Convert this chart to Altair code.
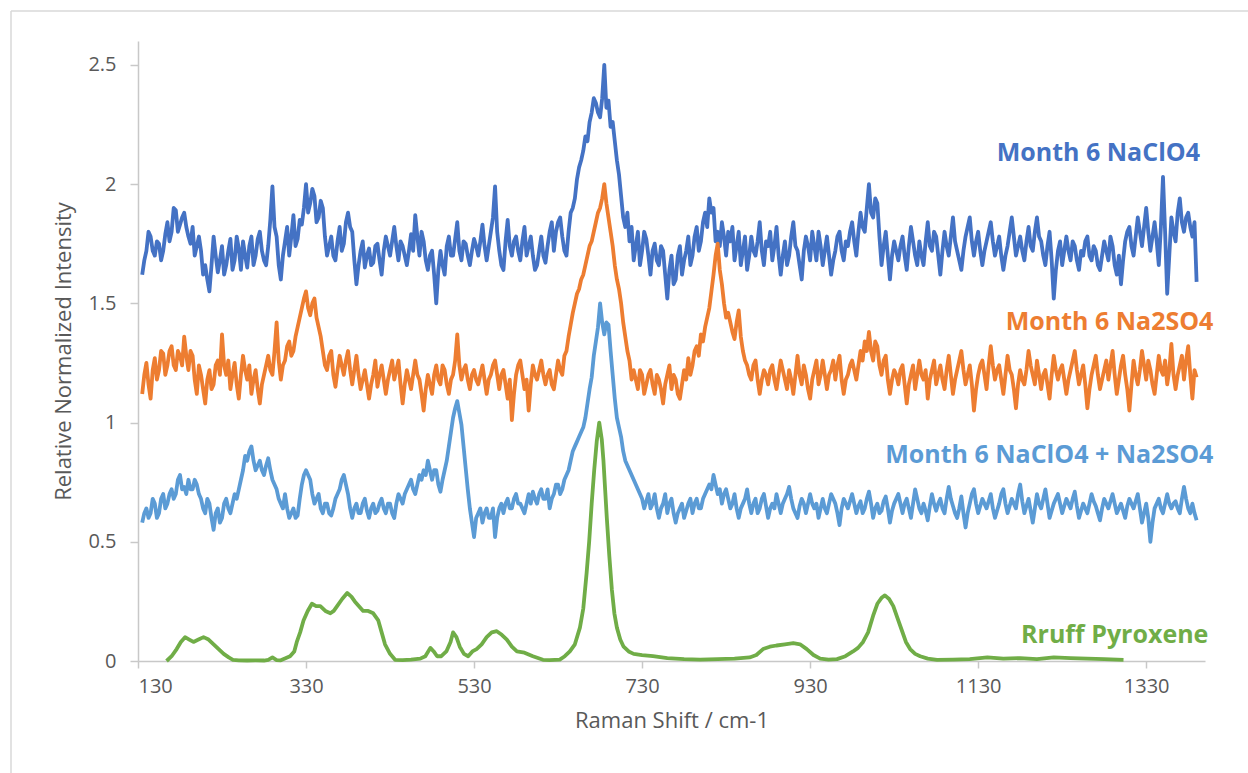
import altair as alt
import pandas as pd

# ---------------- data ----------------
# common sampling grid of the three measured spectra (cm-1): 135 ... 1390, every 2.5
shift = [135 + 2.5 * i for i in range(503)]

naclo4 = [
    1.62, 1.68, 1.72, 1.80, 1.78, 1.72, 1.70, 1.76, 1.75, 1.68, 1.72, 1.79, 1.84, 1.76, 1.80, 1.90, 1.89, 1.80, 1.83, 1.86,
    1.88, 1.82, 1.78, 1.75, 1.82, 1.70, 1.74, 1.78, 1.72, 1.62, 1.66, 1.60, 1.55, 1.66, 1.78, 1.70, 1.63, 1.68, 1.74, 1.62,
    1.66, 1.72, 1.77, 1.64, 1.68, 1.78, 1.73, 1.64, 1.76, 1.70, 1.65, 1.74, 1.78, 1.66, 1.70, 1.77, 1.80, 1.72, 1.68, 1.66,
    1.74, 1.85, 1.99, 1.82, 1.78, 1.66, 1.60, 1.70, 1.76, 1.82, 1.70, 1.78, 1.87, 1.74, 1.77, 1.85, 1.83, 1.90, 2.00, 1.88,
    1.92, 1.98, 1.95, 1.84, 1.86, 1.93, 1.90, 1.78, 1.70, 1.74, 1.78, 1.70, 1.68, 1.76, 1.82, 1.72, 1.75, 1.84, 1.88, 1.82,
    1.80, 1.68, 1.58, 1.66, 1.72, 1.76, 1.65, 1.70, 1.73, 1.66, 1.67, 1.74, 1.75, 1.68, 1.62, 1.72, 1.78, 1.74, 1.70, 1.76,
    1.82, 1.74, 1.68, 1.76, 1.74, 1.70, 1.66, 1.72, 1.79, 1.72, 1.87, 1.78, 1.70, 1.80, 1.76, 1.68, 1.64, 1.70, 1.72, 1.62,
    1.50, 1.64, 1.72, 1.66, 1.62, 1.74, 1.78, 1.70, 1.70, 1.77, 1.84, 1.72, 1.68, 1.76, 1.75, 1.70, 1.66, 1.72, 1.77, 1.74,
    1.70, 1.76, 1.83, 1.74, 1.68, 1.74, 1.80, 1.86, 1.99, 1.80, 1.72, 1.66, 1.64, 1.76, 1.85, 1.74, 1.70, 1.76, 1.78, 1.72,
    1.68, 1.76, 1.82, 1.70, 1.74, 1.78, 1.70, 1.64, 1.66, 1.72, 1.78, 1.70, 1.67, 1.74, 1.80, 1.84, 1.72, 1.80, 1.84, 1.86,
    1.78, 1.72, 1.70, 1.80, 1.88, 1.90, 1.94, 2.02, 2.07, 2.10, 2.14, 2.20, 2.18, 2.26, 2.30, 2.36, 2.34, 2.30, 2.28, 2.36,
    2.50, 2.32, 2.35, 2.24, 2.26, 2.18, 2.10, 2.04, 1.95, 1.86, 1.82, 1.88, 1.76, 1.82, 1.68, 1.74, 1.80, 1.66, 1.72, 1.80,
    1.77, 1.70, 1.62, 1.72, 1.75, 1.68, 1.66, 1.74, 1.72, 1.62, 1.52, 1.64, 1.70, 1.58, 1.60, 1.70, 1.74, 1.62, 1.68, 1.72,
    1.78, 1.66, 1.70, 1.78, 1.82, 1.72, 1.76, 1.84, 1.88, 1.82, 1.94, 1.88, 1.90, 1.76, 1.80, 1.74, 1.84, 1.78, 1.70, 1.80,
    1.76, 1.82, 1.68, 1.74, 1.80, 1.66, 1.72, 1.78, 1.64, 1.70, 1.78, 1.72, 1.70, 1.76, 1.84, 1.72, 1.66, 1.76, 1.74, 1.80,
    1.68, 1.74, 1.82, 1.70, 1.62, 1.70, 1.76, 1.66, 1.70, 1.78, 1.84, 1.74, 1.72, 1.66, 1.60, 1.72, 1.78, 1.74, 1.68, 1.80,
    1.74, 1.68, 1.80, 1.74, 1.66, 1.72, 1.78, 1.70, 1.62, 1.68, 1.72, 1.78, 1.80, 1.72, 1.68, 1.76, 1.74, 1.80, 1.84, 1.76,
    1.70, 1.80, 1.88, 1.82, 1.80, 1.90, 2.00, 1.88, 1.86, 1.94, 1.92, 1.78, 1.66, 1.74, 1.80, 1.70, 1.60, 1.70, 1.76, 1.72,
    1.68, 1.74, 1.78, 1.70, 1.64, 1.74, 1.82, 1.76, 1.70, 1.66, 1.76, 1.70, 1.66, 1.76, 1.84, 1.74, 1.72, 1.80, 1.78, 1.70,
    1.62, 1.72, 1.80, 1.74, 1.70, 1.78, 1.86, 1.76, 1.72, 1.68, 1.64, 1.72, 1.78, 1.82, 1.86, 1.76, 1.70, 1.76, 1.80, 1.72,
    1.66, 1.72, 1.76, 1.80, 1.84, 1.76, 1.70, 1.74, 1.78, 1.70, 1.64, 1.70, 1.74, 1.80, 1.86, 1.78, 1.70, 1.74, 1.78, 1.72,
    1.68, 1.76, 1.82, 1.74, 1.72, 1.80, 1.86, 1.78, 1.76, 1.70, 1.66, 1.74, 1.80, 1.68, 1.52, 1.64, 1.72, 1.76, 1.66, 1.72,
    1.78, 1.72, 1.68, 1.76, 1.74, 1.68, 1.64, 1.72, 1.70, 1.76, 1.78, 1.70, 1.68, 1.74, 1.72, 1.66, 1.64, 1.70, 1.76, 1.72,
    1.68, 1.78, 1.74, 1.66, 1.62, 1.70, 1.58, 1.68, 1.76, 1.80, 1.82, 1.74, 1.70, 1.78, 1.86, 1.80, 1.74, 1.82, 1.90, 1.80,
    1.72, 1.78, 1.84, 1.76, 1.66, 1.82, 2.03, 1.80, 1.54, 1.70, 1.86, 1.80, 1.76, 1.88, 1.94, 1.84, 1.80, 1.86, 1.88, 1.82,
    1.78, 1.84, 1.59,
]

na2so4 = [
    1.12, 1.20, 1.25, 1.16, 1.10, 1.22, 1.27, 1.18, 1.22, 1.30, 1.29, 1.20, 1.24, 1.30, 1.32, 1.24, 1.22, 1.30, 1.28, 1.24,
    1.36, 1.28, 1.22, 1.30, 1.28, 1.18, 1.12, 1.24, 1.20, 1.14, 1.08, 1.18, 1.22, 1.14, 1.16, 1.24, 1.26, 1.20, 1.37, 1.24,
    1.20, 1.26, 1.14, 1.20, 1.25, 1.16, 1.10, 1.20, 1.28, 1.22, 1.18, 1.24, 1.12, 1.18, 1.22, 1.14, 1.08, 1.16, 1.20, 1.24,
    1.28, 1.22, 1.20, 1.30, 1.42, 1.26, 1.18, 1.24, 1.26, 1.32, 1.34, 1.28, 1.30, 1.36, 1.40, 1.44, 1.48, 1.52, 1.55, 1.48,
    1.45, 1.50, 1.52, 1.44, 1.40, 1.36, 1.30, 1.24, 1.22, 1.28, 1.30, 1.20, 1.15, 1.22, 1.28, 1.24, 1.20, 1.26, 1.30, 1.22,
    1.16, 1.22, 1.28, 1.20, 1.14, 1.18, 1.22, 1.16, 1.10, 1.16, 1.20, 1.26, 1.15, 1.20, 1.24, 1.18, 1.12, 1.18, 1.22, 1.26,
    1.18, 1.22, 1.26, 1.16, 1.08, 1.16, 1.22, 1.18, 1.14, 1.20, 1.26, 1.20, 1.18, 1.12, 1.05, 1.14, 1.20, 1.16, 1.12, 1.20,
    1.24, 1.18, 1.16, 1.24, 1.22, 1.16, 1.12, 1.18, 1.20, 1.26, 1.37, 1.24, 1.18, 1.22, 1.24, 1.18, 1.14, 1.20, 1.22, 1.18,
    1.16, 1.20, 1.24, 1.18, 1.12, 1.18, 1.20, 1.24, 1.26, 1.20, 1.14, 1.20, 1.22, 1.16, 1.10, 1.18, 1.01, 1.12, 1.20, 1.24,
    1.26, 1.20, 1.14, 1.18, 1.05, 1.16, 1.24, 1.20, 1.18, 1.22, 1.26, 1.20, 1.16, 1.20, 1.22, 1.16, 1.14, 1.20, 1.26, 1.22,
    1.20, 1.28, 1.30, 1.36, 1.41, 1.46, 1.50, 1.54, 1.56, 1.60, 1.62, 1.66, 1.70, 1.74, 1.76, 1.80, 1.84, 1.88, 1.90, 1.94,
    2.00, 1.92, 1.86, 1.80, 1.74, 1.66, 1.60, 1.56, 1.50, 1.42, 1.36, 1.30, 1.26, 1.18, 1.22, 1.18, 1.14, 1.22, 1.20, 1.12,
    1.16, 1.20, 1.22, 1.16, 1.12, 1.20, 1.18, 1.14, 1.08, 1.16, 1.20, 1.24, 1.14, 1.20, 1.18, 1.12, 1.10, 1.16, 1.22, 1.18,
    1.27, 1.20, 1.24, 1.30, 1.32, 1.28, 1.37, 1.34, 1.40, 1.44, 1.48, 1.55, 1.62, 1.70, 1.75, 1.64, 1.58, 1.50, 1.44, 1.46,
    1.42, 1.38, 1.35, 1.42, 1.47, 1.36, 1.30, 1.26, 1.24, 1.20, 1.18, 1.24, 1.26, 1.18, 1.12, 1.18, 1.22, 1.20, 1.16, 1.22,
    1.24, 1.18, 1.14, 1.20, 1.26, 1.22, 1.18, 1.14, 1.22, 1.18, 1.12, 1.20, 1.28, 1.20, 1.16, 1.24, 1.20, 1.14, 1.10, 1.18,
    1.22, 1.26, 1.16, 1.20, 1.26, 1.20, 1.14, 1.20, 1.22, 1.26, 1.18, 1.24, 1.28, 1.18, 1.12, 1.18, 1.20, 1.24, 1.26, 1.22,
    1.18, 1.24, 1.30, 1.26, 1.34, 1.30, 1.38, 1.30, 1.26, 1.34, 1.32, 1.24, 1.20, 1.26, 1.28, 1.18, 1.12, 1.18, 1.22, 1.20,
    1.16, 1.22, 1.24, 1.16, 1.08, 1.16, 1.20, 1.24, 1.14, 1.20, 1.26, 1.20, 1.18, 1.22, 1.10, 1.18, 1.22, 1.26, 1.16, 1.20,
    1.24, 1.18, 1.14, 1.22, 1.28, 1.20, 1.12, 1.18, 1.22, 1.26, 1.30, 1.22, 1.16, 1.20, 1.24, 1.16, 1.05, 1.14, 1.20, 1.24,
    1.26, 1.20, 1.14, 1.24, 1.32, 1.24, 1.18, 1.22, 1.24, 1.18, 1.12, 1.20, 1.28, 1.22, 1.20, 1.14, 1.06, 1.16, 1.22, 1.18,
    1.16, 1.22, 1.30, 1.24, 1.20, 1.16, 1.26, 1.20, 1.14, 1.20, 1.22, 1.16, 1.10, 1.20, 1.28, 1.22, 1.18, 1.22, 1.24, 1.18,
    1.12, 1.18, 1.22, 1.26, 1.30, 1.22, 1.16, 1.20, 1.24, 1.16, 1.06, 1.14, 1.20, 1.24, 1.28, 1.20, 1.14, 1.18, 1.22, 1.26,
    1.18, 1.24, 1.30, 1.20, 1.12, 1.18, 1.24, 1.28, 1.20, 1.14, 1.05, 1.16, 1.26, 1.20, 1.16, 1.22, 1.30, 1.24, 1.18, 1.26,
    1.22, 1.16, 1.12, 1.20, 1.28, 1.22, 1.20, 1.26, 1.16, 1.22, 1.33, 1.20, 1.14, 1.20, 1.24, 1.28, 1.18, 1.26, 1.32, 1.20,
    1.10, 1.22, 1.19,
]

mixed = [
    0.58, 0.62, 0.64, 0.60, 0.62, 0.68, 0.66, 0.60, 0.62, 0.68, 0.70, 0.64, 0.66, 0.70, 0.72, 0.68, 0.70, 0.76, 0.78, 0.72,
    0.73, 0.70, 0.76, 0.72, 0.72, 0.76, 0.74, 0.70, 0.68, 0.64, 0.62, 0.68, 0.66, 0.60, 0.55, 0.62, 0.64, 0.58, 0.60, 0.66,
    0.68, 0.64, 0.62, 0.66, 0.70, 0.68, 0.72, 0.76, 0.80, 0.86, 0.84, 0.88, 0.90, 0.84, 0.80, 0.82, 0.84, 0.80, 0.78, 0.82,
    0.85, 0.80, 0.76, 0.74, 0.72, 0.68, 0.66, 0.64, 0.70, 0.64, 0.60, 0.62, 0.64, 0.60, 0.61, 0.68, 0.74, 0.78, 0.80, 0.78,
    0.76, 0.70, 0.66, 0.68, 0.70, 0.64, 0.62, 0.66, 0.66, 0.62, 0.61, 0.64, 0.68, 0.70, 0.72, 0.76, 0.78, 0.74, 0.70, 0.64,
    0.60, 0.64, 0.66, 0.62, 0.62, 0.66, 0.68, 0.63, 0.60, 0.64, 0.66, 0.62, 0.63, 0.66, 0.68, 0.64, 0.62, 0.66, 0.66, 0.62,
    0.60, 0.66, 0.70, 0.68, 0.66, 0.70, 0.72, 0.74, 0.76, 0.72, 0.70, 0.74, 0.78, 0.76, 0.80, 0.78, 0.84, 0.80, 0.76, 0.80,
    0.80, 0.74, 0.71, 0.76, 0.80, 0.84, 0.90, 0.96, 1.02, 1.06, 1.09, 1.04, 0.99, 0.90, 0.81, 0.72, 0.64, 0.58, 0.52, 0.60,
    0.62, 0.64, 0.58, 0.62, 0.64, 0.60, 0.60, 0.64, 0.52, 0.60, 0.64, 0.66, 0.62, 0.66, 0.68, 0.64, 0.64, 0.68, 0.70, 0.66,
    0.66, 0.64, 0.62, 0.66, 0.70, 0.66, 0.71, 0.68, 0.66, 0.70, 0.72, 0.68, 0.68, 0.72, 0.64, 0.68, 0.70, 0.74, 0.74, 0.70,
    0.72, 0.76, 0.78, 0.80, 0.84, 0.88, 0.90, 0.92, 0.94, 0.96, 0.98, 1.02, 1.08, 1.14, 1.19, 1.28, 1.34, 1.40, 1.50, 1.42,
    1.37, 1.42, 1.41, 1.30, 1.20, 1.10, 1.02, 0.98, 0.94, 0.88, 0.84, 0.82, 0.80, 0.78, 0.76, 0.74, 0.72, 0.70, 0.68, 0.64,
    0.67, 0.70, 0.64, 0.66, 0.70, 0.64, 0.60, 0.64, 0.66, 0.70, 0.62, 0.66, 0.68, 0.62, 0.58, 0.62, 0.64, 0.66, 0.60, 0.63,
    0.66, 0.68, 0.62, 0.66, 0.68, 0.64, 0.64, 0.68, 0.70, 0.72, 0.74, 0.72, 0.78, 0.74, 0.70, 0.72, 0.66, 0.70, 0.72, 0.68,
    0.64, 0.66, 0.70, 0.64, 0.60, 0.64, 0.66, 0.68, 0.72, 0.66, 0.62, 0.66, 0.68, 0.62, 0.64, 0.68, 0.70, 0.65, 0.60, 0.64,
    0.66, 0.64, 0.70, 0.66, 0.62, 0.66, 0.68, 0.70, 0.73, 0.68, 0.64, 0.62, 0.60, 0.65, 0.68, 0.66, 0.62, 0.66, 0.70, 0.66,
    0.64, 0.66, 0.60, 0.64, 0.68, 0.64, 0.62, 0.66, 0.70, 0.68, 0.66, 0.62, 0.57, 0.64, 0.68, 0.66, 0.64, 0.67, 0.70, 0.66,
    0.62, 0.65, 0.67, 0.62, 0.64, 0.68, 0.71, 0.66, 0.60, 0.64, 0.66, 0.62, 0.63, 0.67, 0.69, 0.64, 0.58, 0.63, 0.66, 0.68,
    0.70, 0.66, 0.62, 0.66, 0.68, 0.64, 0.60, 0.66, 0.72, 0.68, 0.64, 0.62, 0.66, 0.63, 0.59, 0.65, 0.70, 0.66, 0.63, 0.66,
    0.68, 0.64, 0.62, 0.68, 0.73, 0.68, 0.65, 0.62, 0.60, 0.64, 0.69, 0.62, 0.56, 0.62, 0.66, 0.70, 0.72, 0.66, 0.62, 0.65,
    0.68, 0.66, 0.64, 0.67, 0.70, 0.64, 0.60, 0.63, 0.66, 0.70, 0.72, 0.66, 0.62, 0.65, 0.68, 0.66, 0.64, 0.70, 0.74, 0.67,
    0.62, 0.65, 0.68, 0.63, 0.58, 0.64, 0.70, 0.66, 0.64, 0.68, 0.72, 0.66, 0.60, 0.63, 0.66, 0.68, 0.70, 0.66, 0.62, 0.65,
    0.68, 0.66, 0.64, 0.68, 0.71, 0.65, 0.60, 0.63, 0.66, 0.64, 0.62, 0.66, 0.70, 0.67, 0.65, 0.62, 0.59, 0.64, 0.68, 0.66,
    0.64, 0.67, 0.70, 0.66, 0.62, 0.64, 0.66, 0.63, 0.60, 0.65, 0.68, 0.66, 0.64, 0.67, 0.70, 0.64, 0.58, 0.62, 0.66, 0.60,
    0.50, 0.58, 0.64, 0.66, 0.68, 0.64, 0.62, 0.66, 0.70, 0.66, 0.64, 0.66, 0.67, 0.64, 0.62, 0.68, 0.73, 0.68, 0.64, 0.62,
    0.66, 0.62, 0.59,
]

# reference spectrum (smooth), own sampling
rruff_shift = [
    164, 170, 176, 181, 186, 191, 196, 202, 208, 214, 220, 226, 232, 238, 243,
    250, 260, 270, 280, 285, 290, 295, 300, 311, 316, 319, 323, 327, 332, 337,
    342, 347, 353, 359, 363, 367, 373, 379, 384, 388, 393, 398, 404, 410, 416,
    420, 424, 430, 436, 445, 455, 466, 472, 478, 482, 486, 491, 497, 502, 505,
    509, 513, 518, 523, 528, 533, 539, 545, 551, 557, 563, 569, 575, 581, 590,
    600, 612, 620, 632, 638, 644, 650, 656, 660, 664, 667, 670, 673, 676, 679,
    682, 684, 686, 688, 691, 694, 697, 700, 704, 708, 714, 720, 730, 743, 760,
    780, 799, 820, 840, 858, 866, 874, 882, 890, 900, 910, 918, 926, 934, 942,
    952, 962, 972, 981, 987, 993, 999, 1005, 1010, 1015, 1019, 1024, 1029, 1034,
    1039, 1044, 1049, 1055, 1061, 1070, 1081, 1100, 1120, 1141, 1160, 1180,
    1200, 1220, 1240, 1260, 1280, 1303,
]
rruff = [
    0.0, 0.02, 0.05, 0.08, 0.10, 0.09, 0.08, 0.09, 0.10, 0.09, 0.07, 0.05, 0.03, 0.015, 0.005,
    0.003, 0.002, 0.003, 0.002, 0.005, 0.015, 0.004, 0.003, 0.02, 0.04, 0.08, 0.12, 0.17, 0.21, 0.24,
    0.23, 0.23, 0.21, 0.20, 0.21, 0.23, 0.26, 0.285, 0.27, 0.25, 0.23, 0.21, 0.21, 0.20, 0.17,
    0.12, 0.07, 0.03, 0.005, 0.004, 0.006, 0.01, 0.02, 0.055, 0.04, 0.02, 0.02, 0.04, 0.08, 0.12,
    0.10, 0.06, 0.03, 0.02, 0.04, 0.05, 0.07, 0.10, 0.12, 0.125, 0.11, 0.09, 0.06, 0.04, 0.035,
    0.02, 0.005, 0.004, 0.006, 0.02, 0.04, 0.07, 0.14, 0.22, 0.37, 0.50, 0.66, 0.80, 0.92, 1.00,
    0.93, 0.84, 0.72, 0.60, 0.44, 0.30, 0.20, 0.14, 0.09, 0.06, 0.04, 0.03, 0.025, 0.02, 0.012,
    0.008, 0.006, 0.008, 0.01, 0.015, 0.025, 0.05, 0.06, 0.065, 0.07, 0.075, 0.07, 0.05, 0.025, 0.01,
    0.006, 0.008, 0.02, 0.04, 0.055, 0.08, 0.12, 0.19, 0.24, 0.265, 0.275, 0.26, 0.23, 0.18,
    0.13, 0.08, 0.05, 0.03, 0.02, 0.01, 0.005, 0.006, 0.008, 0.015, 0.01, 0.012,
    0.008, 0.015, 0.012, 0.01, 0.008, 0.005,
]

series_names = ["Month 6 NaClO4", "Month 6 Na2SO4", "Month 6 NaClO4 + Na2SO4", "Rruff Pyroxene"]
series_colors = ["#4472C4", "#ED7D31", "#5B9BD5", "#70AD47"]
# label anchor (right end, baseline) in data units
label_x = [1394, 1410, 1410, 1404]
label_y = [2.096, 1.389, 0.832, 0.074]

x_ticks = [130, 330, 530, 730, 930, 1130, 1330]
y_ticks = [0, 0.5, 1, 1.5, 2, 2.5]

# ---------------- chart ----------------
FONT = "Open Sans"
W, H = 1067, 620
LW = 3.8

xscale = alt.Scale(domain=[130, 1400], nice=False, zero=False)
yscale = alt.Scale(domain=[0, 2.6], nice=False)

xaxis = alt.Axis(values=x_ticks, format="d", title="Raman Shift / cm-1",
                 grid=False, tickSize=7, labelPadding=8, titlePadding=14)
yaxis = alt.Axis(values=y_ticks, format="~g", title="Relative Normalized Intensity",
                 grid=False, tickSize=8, labelPadding=14, titlePadding=12)

layers = []
for vals, color in zip([naclo4, na2so4, mixed], series_colors[:3]):
    df = pd.DataFrame({"shift": shift, "value": vals})
    layers.append(
        alt.Chart(df).mark_line(color=color, strokeWidth=LW, strokeJoin="round").encode(
            x=alt.X("shift:Q", scale=xscale, axis=xaxis),
            y=alt.Y("value:Q", scale=yscale, axis=yaxis),
        )
    )

df_r = pd.DataFrame({"shift": rruff_shift, "value": rruff})
layers.append(
    alt.Chart(df_r).mark_line(color=series_colors[3], strokeWidth=LW, strokeJoin="round").encode(
        x=alt.X("shift:Q", scale=xscale, axis=xaxis),
        y=alt.Y("value:Q", scale=yscale, axis=yaxis),
    )
)

df_lab = pd.DataFrame({"label": series_names, "lx": label_x, "ly": label_y, "col": series_colors})
labels = alt.Chart(df_lab).mark_text(
    align="right", baseline="alphabetic", font=FONT, fontSize=25, fontWeight="bold"
).encode(
    x=alt.X("lx:Q", scale=xscale),
    y=alt.Y("ly:Q", scale=yscale),
    text="label:N",
    color=alt.Color("col:N", scale=None),
)
layers.append(labels)

# outer chart frame (top and left edges visible in the reference)
frame_top = alt.Chart(pd.DataFrame({"a": [0]})).mark_rule(color="#D9D9D9", strokeWidth=1.5).encode(
    x=alt.value(-127), x2=alt.value(1115), y=alt.value(-30)
)
frame_left = alt.Chart(pd.DataFrame({"a": [0]})).mark_rule(color="#D9D9D9", strokeWidth=1.5).encode(
    x=alt.value(-127), y=alt.value(-30), y2=alt.value(740)
)
layers = [frame_top, frame_left] + layers

chart = alt.layer(*layers).properties(
    width=W, height=H,
    autosize=alt.AutoSizeParams(type="none"),
    padding={"left": 138, "top": 41, "right": 43, "bottom": 112},
    background="white",
).configure_view(stroke=None).configure_axis(
    labelFont=FONT, titleFont=FONT, labelFontSize=20, titleFontSize=22,
    labelColor="#595959", titleColor="#595959", titleFontWeight="normal",
    domainColor="#C8C8C8", tickColor="#C8C8C8", domainWidth=1.5, tickWidth=1.5,
)

chart.save("out.html", embed_options={"renderer": "svg", "actions": False})
